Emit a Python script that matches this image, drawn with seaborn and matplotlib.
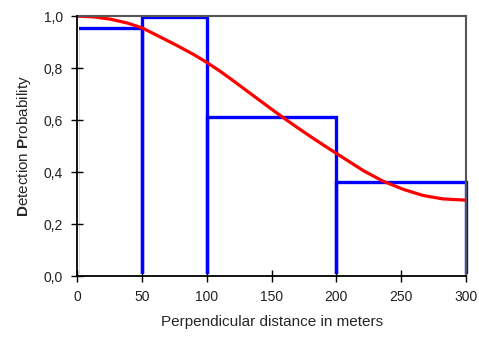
import numpy as np
import matplotlib
matplotlib.use("Agg")
import matplotlib.pyplot as plt
import matplotlib.ticker as ticker
from matplotlib.patches import Rectangle
import seaborn as sns

# histogram of detections, scaled
bin_edges = [0, 50, 100, 200, 300]
bin_heights = [0.953, 0.995, 0.613, 0.363]

# fitted detection function
dist = [0, 13, 26, 39, 50, 64, 77, 90, 100, 110, 120, 130, 140, 150, 160,
        170, 180, 190, 200, 210, 221, 236, 252, 267, 282, 300]
prob = [1.0, 0.997, 0.988, 0.973, 0.955, 0.920, 0.887, 0.852, 0.822, 0.789,
        0.753, 0.716, 0.679, 0.642, 0.606, 0.571, 0.537, 0.504, 0.472, 0.440,
        0.405, 0.365, 0.333, 0.310, 0.297, 0.292]

x_ticks = [0, 50, 100, 150, 200, 250, 300]
y_ticks = [0.0, 0.2, 0.4, 0.6, 0.8, 1.0]

sns.set_style("white")
plt.rcParams['font.family'] = ['Liberation Sans', 'DejaVu Sans']
plt.rcParams['mathtext.fontset'] = 'custom'
plt.rcParams['mathtext.rm'] = 'Liberation Sans'
plt.rcParams['mathtext.bf'] = 'Liberation Sans:bold'

fig = plt.figure(figsize=(4.79, 3.43), dpi=100)
ax = fig.add_axes([0.161, 0.195, 0.812, 0.758])

mids = [(bin_edges[i] + bin_edges[i + 1]) / 2 for i in range(len(bin_heights))]
sns.histplot(x=mids, weights=bin_heights, bins=bin_edges, fill=False,
             color="#0000ff", linewidth=2.4, ax=ax)
# hide the bottom edge of the bars behind the axis
clip = Rectangle((1.2, 0.007), 330, 1.2, transform=ax.transData)
for p in ax.patches:
    p.set_edgecolor("#0000ff")
    p.set_clip_path(clip)

sns.lineplot(x=dist, y=prob, color="#ff0000", linewidth=2.3, ax=ax)

ax.set_xlim(0, 300)
ax.set_ylim(0, 1.0)
ax.set_xticks(x_ticks)
ax.set_yticks(y_ticks)
ax.yaxis.set_major_formatter(ticker.FuncFormatter(lambda v, pos: ("%.1f" % v).replace('.', ',')))
ax.tick_params(bottom=True, left=True, direction='inout', length=8, width=1,
               color='black', labelsize=10, labelcolor='#222222', pad=6)

for s in ['left', 'bottom']:
    ax.spines[s].set_color('black')
    ax.spines[s].set_linewidth(1.3)
    ax.spines[s].set_zorder(5)
for s in ['top', 'right']:
    ax.spines[s].set_color('#555555')
    ax.spines[s].set_linewidth(1.5)

ax.set_xlabel("Perpendicular distance in meters", fontsize=11, labelpad=8)
ax.set_ylabel(r"$\mathbf{D}$etection $\mathbf{P}$robability", fontsize=11, labelpad=8)

fig.savefig("out.png", dpi=100)
